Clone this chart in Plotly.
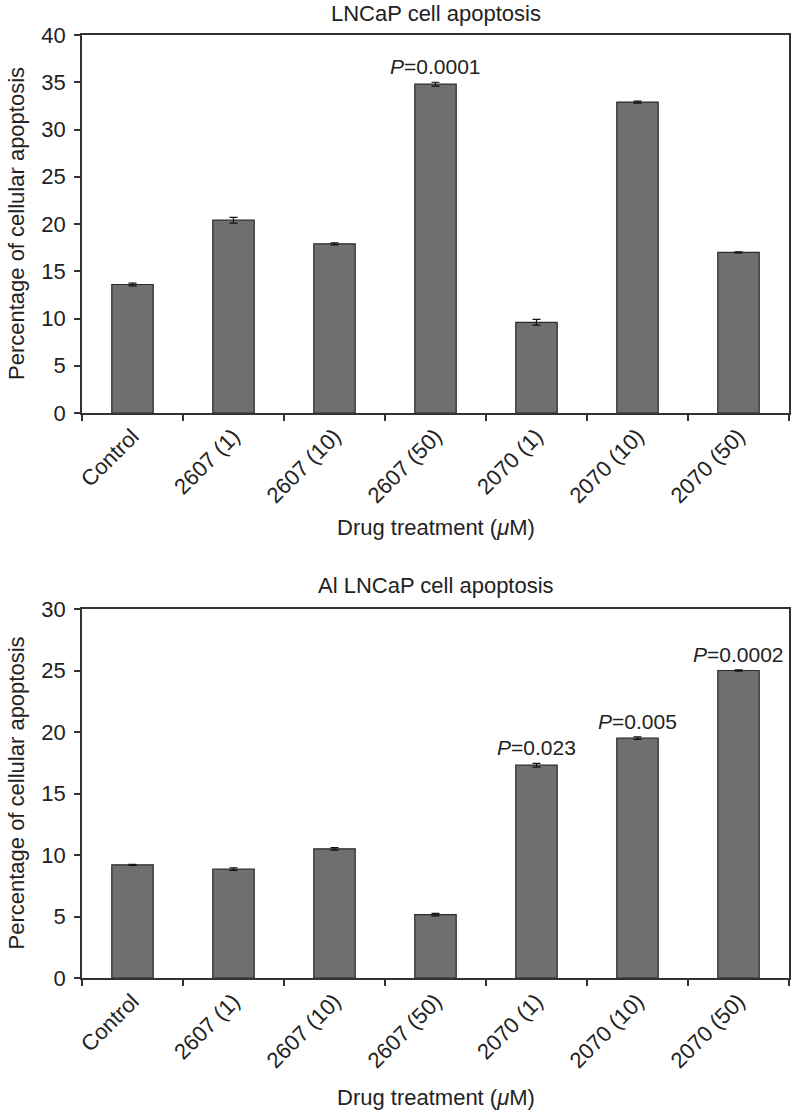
import plotly.graph_objects as go

categories = ["Control", "2607 (1)", "2607 (10)", "2607 (50)", "2070 (1)", "2070 (10)", "2070 (50)"]
lncap_values = [13.6, 20.4, 17.9, 34.8, 9.6, 32.9, 17.0]
lncap_errors = [0.15, 0.3, 0.1, 0.2, 0.3, 0.1, 0.05]
ai_values = [9.2, 8.85, 10.5, 5.15, 17.3, 19.5, 25.0]
ai_errors = [0.05, 0.1, 0.1, 0.1, 0.15, 0.1, 0.05]
lncap_pvals = {"2607 (50)": "0.0001"}
ai_pvals = {"2070 (1)": "0.023", "2070 (10)": "0.005", "2070 (50)": "0.0002"}

FONT = "Liberation Sans, Arial, Helvetica, sans-serif"
BAR = "#6f6f6f"
EDGE = "#2a2a2a"
TXT = "#222222"
W, H = 792, 1116

fig = go.Figure()

def add_bars(vals, errs, xa, ya):
    fig.add_trace(go.Bar(
        x=categories, y=vals, xaxis=xa, yaxis=ya,
        marker=dict(color=BAR, line=dict(color=EDGE, width=1.2)),
        width=0.41,
        error_y=dict(type="data", array=errs, visible=True, color="#111111", thickness=1.2, width=4),
        showlegend=False, hoverinfo="skip",
    ))

add_bars(lncap_values, lncap_errors, "x", "y")
add_bars(ai_values, ai_errors, "x2", "y2")

xl, xr = 82 / W, 789 / W
top_dom = [1 - 413 / H, 1 - 35 / H]
bot_dom = [1 - 978 / H, 1 - 609 / H]

axis_common = dict(
    showline=True, linecolor="#333333", linewidth=1.5, mirror=True,
    ticks="outside", ticklen=6, tickwidth=1.5, tickcolor="#333333",
    showgrid=False, zeroline=False, automargin=False,
    tickfont=dict(family=FONT, size=22, color=TXT),
)

fig.update_layout(
    width=W, height=H,
    margin=dict(l=0, r=0, t=0, b=0),
    paper_bgcolor="white", plot_bgcolor="white",
    xaxis=dict(domain=[xl, xr], anchor="y", tickangle=-45, tickson="boundaries", **axis_common),
    yaxis=dict(domain=top_dom, anchor="x", range=[0, 40], dtick=5, ticklabelstandoff=4, **axis_common),
    xaxis2=dict(domain=[xl, xr], anchor="y2", tickangle=-45, tickson="boundaries", **axis_common),
    yaxis2=dict(domain=bot_dom, anchor="x2", range=[0, 30], dtick=5, ticklabelstandoff=4, **axis_common),
)

anns = []
cx = (xl + xr) / 2
tf = dict(family=FONT, size=22, color=TXT)
anns.append(dict(text="LNCaP cell apoptosis", x=cx, y=1 - 13 / H, xref="paper", yref="paper",
                 showarrow=False, font=tf, xanchor="center", yanchor="middle"))
anns.append(dict(text="Al LNCaP cell apoptosis", x=cx, y=1 - 585 / H, xref="paper", yref="paper",
                 showarrow=False, font=tf, xanchor="center", yanchor="middle"))
for yy in [527, 1097]:
    anns.append(dict(text="Drug treatment (<i>μ</i>M)", x=cx, y=1 - yy / H, xref="paper", yref="paper",
                     showarrow=False, font=tf, xanchor="center", yanchor="middle"))
for dom in [top_dom, bot_dom]:
    anns.append(dict(text="Percentage of cellular apoptosis", x=16 / W, y=(dom[0] + dom[1]) / 2,
                     xref="paper", yref="paper", showarrow=False, font=tf, textangle=-90,
                     xanchor="center", yanchor="middle"))

pf = dict(family=FONT, size=21, color=TXT)
for cat, p in lncap_pvals.items():
    i = categories.index(cat)
    anns.append(dict(text="<i>P</i>=" + p, x=cat, y=lncap_values[i] + lncap_errors[i], xref="x", yref="y",
                     showarrow=False, font=pf, yanchor="bottom", yshift=2))
for cat, p in ai_pvals.items():
    i = categories.index(cat)
    anns.append(dict(text="<i>P</i>=" + p, x=cat, y=ai_values[i] + ai_errors[i], xref="x2", yref="y2",
                     showarrow=False, font=pf, yanchor="bottom", yshift=2))

fig.update_layout(annotations=anns)
fig.write_html("out.html", config={"displayModeBar": False},
               post_script="document.body.style.margin='0';document.body.style.overflow='hidden';")
